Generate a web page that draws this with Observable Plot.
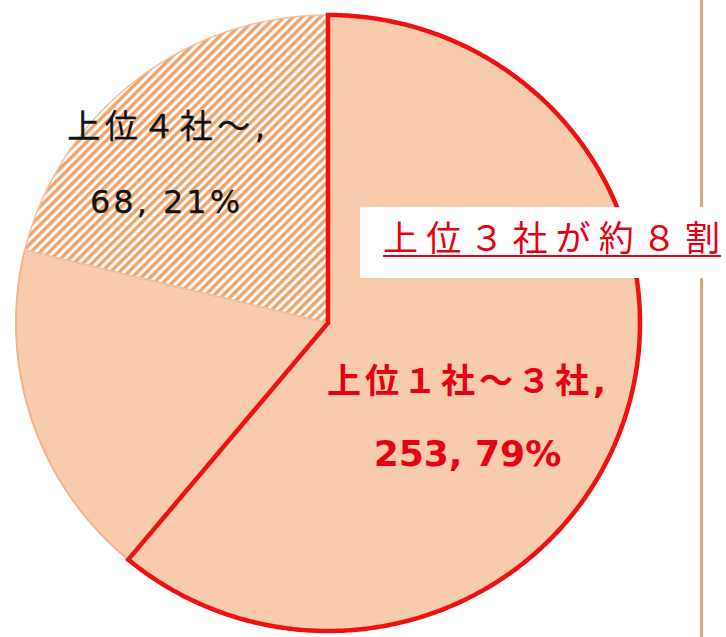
<!DOCTYPE html>
<html><head><meta charset="utf-8">
<script src="https://cdn.jsdelivr.net/npm/d3@7"></script>
<script src="https://cdn.jsdelivr.net/npm/@observablehq/plot@0.6"></script>
<style>html,body{margin:0;padding:0;background:#fff;overflow:hidden} svg{display:block}</style>
</head><body><div id="chart"></div>
<script>
// ---- data ----
const sliceGroups = ["上位１社～３社", "上位１社～３社", "上位４社～"];
const sliceValues = [196, 57, 68];
const groupNames = ["上位１社～３社", "上位４社～"];
const groupValues = [253, 68];
const groupShares = ["79%", "21%"];
const calloutText = "上位３社が約８割";

// ---- layout / style ----
const W = 726, H = 637;
const CX = 328, CY = 323, RX = 312, RY = 308;
const PEACH = "#F8CBAD", STRIPE = "#EFA46C", RED = "#EE1111", TEXTRED = "#E60012";
const FONT = "'DejaVu Sans','Noto Sans CJK JP',sans-serif";

const slices = sliceValues.map((v, i) => ({group: sliceGroups[i], value: v, idx: i}));
const arcs = d3.pie().sort(null).value(d => d.value)(slices);
const groupArcs = d3.pie().sort(null)(groupValues);
const labels = groupNames.map((name, i) => {
  const a = groupArcs[i];
  const m = (a.startAngle + a.endAngle) / 2;
  return {name, value: groupValues[i], share: groupShares[i], ux: 0.55 * Math.sin(m), uy: -0.55 * Math.cos(m)};
});

function pieMark(index, scales, values, dimensions) {
  const sx = (scales && scales.x) || (v => CX + v * RX);
  const sy = (scales && scales.y) || (v => CY + v * RY);
  const g = d3.create("svg:g");
  const defs = g.append("defs");
  const pat = defs.append("pattern").attr("id", "hatch").attr("patternUnits", "userSpaceOnUse")
    .attr("width", 6.4).attr("height", 6.4).attr("patternTransform", "rotate(45)");
  pat.append("rect").attr("width", 6.4).attr("height", 6.4).attr("fill", "#FFFFFF");
  pat.append("rect").attr("width", 3.4).attr("height", 6.4).attr("fill", STRIPE);
  const pathOf = a => {
    const n = Math.max(2, Math.ceil((a.endAngle - a.startAngle) / (Math.PI / 360)));
    const pts = [[0, 0]];
    for (let i = 0; i <= n; i++) {
      const t = a.startAngle + (a.endAngle - a.startAngle) * i / n;
      pts.push([Math.sin(t), -Math.cos(t)]);
    }
    return "M" + pts.map(p => sx(p[0]).toFixed(2) + "," + sy(p[1]).toFixed(2)).join("L") + "Z";
  };
  arcs.forEach(a => {
    const i = a.data.idx;
    if (a.data.group === groupNames[1]) {
      g.append("path").attr("d", pathOf(a)).attr("fill", "url(#hatch)").attr("stroke", "#F0C0A0").attr("stroke-width", 1.5);
    } else if (i === 1) {
      g.append("path").attr("d", pathOf(a)).attr("fill", PEACH).attr("stroke", "#EDB48E").attr("stroke-width", 2);
    }
  });
  arcs.forEach(a => {
    if (a.data.idx === 0) {
      g.append("path").attr("d", pathOf(a)).attr("fill", PEACH).attr("stroke", RED)
        .attr("stroke-width", 4.5).attr("stroke-linejoin", "miter");
    }
  });
  // right divider line and callout box
  const w = dimensions.width, h = dimensions.height;
  g.append("line").attr("x1", w - 24.5).attr("x2", w - 24.5).attr("y1", 0).attr("y2", h)
    .attr("stroke", "#DCA67C").attr("stroke-width", 3);
  g.append("rect").attr("x", 360).attr("y", 207).attr("width", w - 360).attr("height", 71).attr("fill", "#fff");
  g.append("text").attr("x", 383).attr("y", 251).attr("font-family", FONT).attr("font-size", 35)
    .attr("text-anchor", "start")
    .attr("fill", TEXTRED).attr("textLength", 337).attr("lengthAdjust", "spacing").text(calloutText);
  g.append("line").attr("x1", 383).attr("x2", 721).attr("y1", 256).attr("y2", 256)
    .attr("stroke", TEXTRED).attr("stroke-width", 2);
  return g.node();
}

const redL = labels.filter(d => d.name === groupNames[0]);
const blkL = labels.filter(d => d.name === groupNames[1]);

const svg = Plot.plot({
  width: W, height: H,
  margin: 0,
  x: {domain: [-CX / RX, (W - CX) / RX], range: [0, W], axis: null},
  y: {domain: [-CY / RY, (H - CY) / RY], range: [0, H], axis: null},
  style: {fontFamily: FONT, background: "#fff"},
  marks: [
    pieMark,
    Plot.text(redL, {x: "ux", y: "uy", text: d => d.name + ",", dx: 34, dy: -75, fontSize: 34, fontWeight: "bold", fill: TEXTRED}),
    Plot.text(redL, {x: "ux", y: "uy", text: d => `${d.value}, ${d.share}`, dx: 33, dy: -2, fontSize: 36, fontWeight: "bold", fill: TEXTRED}),
    Plot.text(blkL, {x: "ux", y: "uy", text: d => d.name + ",", dx: -54, dy: -63, fontSize: 33, fill: "#111", stroke: "#111", strokeWidth: 0.3}),
    Plot.text(blkL, {x: "ux", y: "uy", text: d => `${d.value}, ${d.share}`, dx: -56, dy: 13, fontSize: 32, fill: "#111", stroke: "#111", strokeWidth: 0.3})
  ]
});
const textGroups = d3.select(svg).selectAll('g[aria-label="text"]').nodes();
const spacing = [4, 0, 4.5, 3];
textGroups.forEach((node, i) => { if (spacing[i]) d3.select(node).attr("letter-spacing", spacing[i]); });
document.getElementById("chart").appendChild(svg);
</script>
</body></html>
